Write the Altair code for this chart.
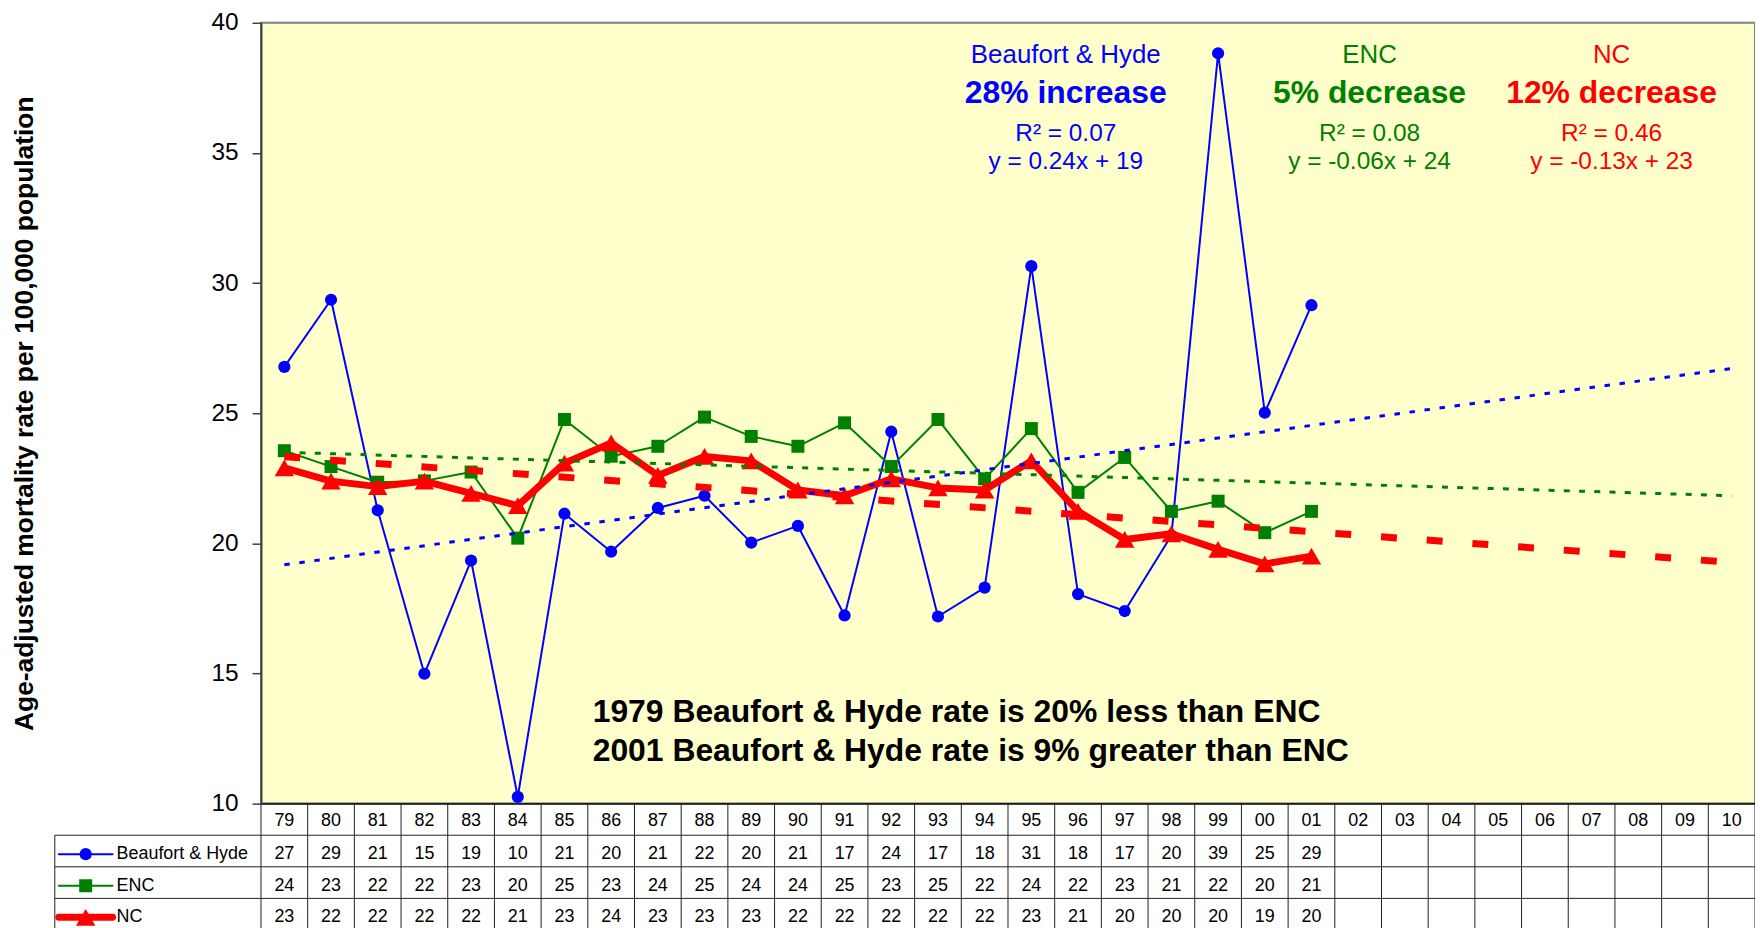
import altair as alt
import pandas as pd

# ---------------- data ----------------
years = ["79", "80", "81", "82", "83", "84", "85", "86", "87", "88", "89", "90",
         "91", "92", "93", "94", "95", "96", "97", "98", "99", "00", "01", "02",
         "03", "04", "05", "06", "07", "08", "09", "10"]

bh = [26.78, 29.36, 21.27, 14.99, 19.34, 10.26, 21.14, 19.68, 21.36, 21.83, 20.03, 20.67,
      17.23, 24.29, 17.19, 18.30, 30.65, 18.05, 17.40, 20.30, 38.83, 25.02, 29.15]
enc = [23.56, 22.95, 22.35, 22.40, 22.74, 20.20, 24.76, 23.35, 23.73, 24.85, 24.11, 23.73,
       24.63, 22.95, 24.76, 22.48, 24.41, 21.96, 23.30, 21.23, 21.62, 20.41, 21.23]
nc = [22.90, 22.39, 22.18, 22.39, 21.92, 21.45, 23.08, 23.86, 22.61, 23.34, 23.17, 22.05,
      21.83, 22.48, 22.13, 22.05, 23.17, 21.23, 20.15, 20.37, 19.77, 19.21, 19.51]

bh_table = [27, 29, 21, 15, 19, 10, 21, 20, 21, 22, 20, 21, 17, 24, 17, 18, 31, 18, 17, 20, 39, 25, 29]
enc_table = [24, 23, 22, 22, 23, 20, 25, 23, 24, 25, 24, 24, 25, 23, 25, 22, 24, 22, 23, 21, 22, 20, 21]
nc_table = [23, 22, 22, 22, 22, 21, 23, 24, 23, 23, 23, 22, 22, 22, 22, 22, 23, 21, 20, 20, 20, 19, 20]

# linear trend lines (value at 1979 and at 2010)
trend_bh = [19.18, 26.72]
trend_enc = [23.50, 21.83]
trend_nc = [23.33, 19.27]

series_names = ["Beaufort & Hyde", "ENC", "NC"]
y_ticks = [10, 15, 20, 25, 30, 35, 40]

# ---------------- styling / layout ----------------
FONT = "Liberation Sans"
BLUE, GREEN, RED = "#0000FF", "#008000", "#FF0000"
W = 1500          # plot width
PLOT_H = 784      # height of the graph part
ROW_H = 31.7      # table row height
TOTAL_H = 907
NCOL = len(years)

xs = alt.Scale(domain=[0.5, NCOL + 0.5], nice=False, zero=False)
ys = alt.Scale(domain=[10, 40], range=[PLOT_H, 0], nice=False, zero=False)
ts = alt.Scale(domain=[0, 4], range=[PLOT_H, PLOT_H + 4 * ROW_H], nice=False, zero=False)

yaxis = alt.Axis(
    values=y_ticks, grid=False,
    title="Age-adjusted mortality rate per 100,000 population",
    titleFont=FONT, titleFontSize=26.5, titleFontWeight="bold", titleColor="black",
    titleAngle=270, titleX=-237, titleY=PLOT_H / 2, titleAlign="center", titleBaseline="middle",
    labelFont=FONT, labelFontSize=24.5, labelColor="black", labelPadding=14,
    tickSize=9, tickColor="#404040", tickWidth=1.5,
    domainColor="#404040", domainWidth=2, zindex=1,
)

X = lambda f: alt.X(f"{f}:Q", scale=xs, axis=None)
Y = lambda f: alt.Y(f"{f}:Q", scale=ys, axis=yaxis)


def sdf(vals):
    return pd.DataFrame({"idx": list(range(1, len(vals) + 1)), "value": vals})


one = pd.DataFrame({"a": [0]})

# background plot area
bg = alt.Chart(pd.DataFrame({"x0": [0.5], "x1": [NCOL + 0.5], "y0": [10], "y1": [40]})).mark_rect(
    fill="#FFFFCC", stroke="#808080", strokeWidth=2
).encode(x=X("x0"), x2="x1", y=Y("y0"), y2="y1")

bottom = alt.Chart(pd.DataFrame({"x0": [0.5], "x1": [NCOL + 0.5], "y0": [10]})).mark_rule(
    color="#202020", strokeWidth=2
).encode(x=X("x0"), x2="x1", y=Y("y0"))

MARK_SIZES = [150, 170, 380]
layers = [bg]
specs = [
    (bh, BLUE, 2, "circle", MARK_SIZES[0]),
    (enc, GREEN, 2, "square", MARK_SIZES[1]),
    (nc, RED, 7, "triangle-up", MARK_SIZES[2]),
]
for vals, col, sw, shp, sz in specs:
    d = sdf(vals)
    layers.append(alt.Chart(d).mark_line(color=col, strokeWidth=sw, strokeJoin="round", strokeCap="round")
                  .encode(x=X("idx"), y=Y("value")))
    layers.append(alt.Chart(d).mark_point(shape=shp, size=sz, filled=True, color=col, opacity=1)
                  .encode(x=X("idx"), y=Y("value")))

for tr, col, sw, dash in [(trend_bh, BLUE, 3, [5.5, 9.7]),
                          (trend_enc, GREEN, 3, [6, 9.3]),
                          (trend_nc, RED, 7, [16, 30])]:
    d = pd.DataFrame({"idx": [1, NCOL], "value": tr})
    layers.append(alt.Chart(d).mark_line(color=col, strokeWidth=sw, strokeDash=dash)
                  .encode(x=X("idx"), y=Y("value")))

layers.append(bottom)


def label(text, x, y, color, size, weight="normal", align="center"):
    return alt.Chart(one).mark_text(
        text=text, font=FONT, fontSize=size, fontWeight=weight, color=color,
        align=align, baseline="alphabetic"
    ).encode(x=alt.value(x), y=alt.value(y))


for cx, col, name, change, r2, eq in [
    (808, BLUE, "Beaufort & Hyde", "28% increase", "R\u00b2 = 0.07", "y = 0.24x + 19"),
    (1113, GREEN, "ENC", "5% decrease", "R\u00b2 = 0.08", "y = -0.06x + 24"),
    (1356, RED, "NC", "12% decrease", "R\u00b2 = 0.46", "y = -0.13x + 23"),
]:
    layers.append(label(name, cx, 40, col, 26))
    layers.append(label(change, cx, 81, col, 32, "bold"))
    layers.append(label(r2, cx, 119, col, 24.5))
    layers.append(label(eq, cx, 147, col, 24.5))

layers.append(label("1979 Beaufort & Hyde rate is 20% less than ENC", 333, 702, "black", 32, "bold", "left"))
layers.append(label("2001 Beaufort & Hyde rate is 9% greater than ENC", 333, 741, "black", 32, "bold", "left"))

main = alt.layer(*layers)

# ---------------- data table under the chart ----------------
TY = lambda f: alt.Y(f"{f}:Q", scale=ts, axis=None)

cells = [dict(idx=i + 1, r=0.55, t=y) for i, y in enumerate(years)]
for k, tab in enumerate([bh_table, enc_table, nc_table]):
    cells += [dict(idx=i + 1, r=k + 1.6, t=str(v)) for i, v in enumerate(tab)]
cells = pd.DataFrame(cells)

table_text = alt.Chart(cells).mark_text(
    font=FONT, fontSize=18, color="black", baseline="middle", align="center"
).encode(x=X("idx"), y=TY("r"), text="t:N")

vlines = alt.Chart(pd.DataFrame({"b": [i + 0.5 for i in range(NCOL + 1)], "r0": 0, "r1": 4})).mark_rule(
    color="#202020", strokeWidth=1
).encode(x=X("b"), y=TY("r0"), y2="r1")

hlines = alt.Chart(pd.DataFrame({"r": [1, 2, 3, 4]})).mark_rule(color="#202020", strokeWidth=1).encode(
    y=TY("r"), x=alt.value(-207), x2=alt.value(W)
)
lborder = alt.Chart(pd.DataFrame({"r0": [1], "r1": [4]})).mark_rule(color="#202020", strokeWidth=1).encode(
    x=alt.value(-207), y=TY("r0"), y2="r1"
)

leg = pd.DataFrame({
    "r": [1.6, 2.6, 3.6],
    "name": series_names,
    "c": [BLUE, GREEN, RED],
    "sw": [2, 2, 7],
    "s": ["circle", "square", "triangle-up"],
    "z": MARK_SIZES,
})
leg_line = alt.Chart(leg).mark_rule(strokeCap="round").encode(
    y=TY("r"), x=alt.value(-203), x2=alt.value(-149),
    color=alt.Color("c:N", scale=None), strokeWidth=alt.StrokeWidth("sw:Q", scale=None)
)
leg_pt = alt.Chart(leg).mark_point(filled=True, opacity=1).encode(
    y=TY("r"), x=alt.value(-176),
    color=alt.Color("c:N", scale=None), shape=alt.Shape("s:N", scale=None), size=alt.Size("z:Q", scale=None)
)
leg_txt = alt.Chart(leg).mark_text(font=FONT, fontSize=18, color="black", align="left", baseline="middle").encode(
    y=TY("r"), x=alt.value(-145), text="name:N"
)

table = alt.layer(vlines, hlines, lborder, table_text, leg_line, leg_pt, leg_txt)

chart = alt.layer(main, table).resolve_scale(y="independent").properties(
    width=W, height=TOTAL_H,
    autosize=alt.AutoSizeParams(type="none"),
    padding={"left": 254, "top": 13, "right": 0, "bottom": 0},
    background="white",
).configure_view(stroke=None)

chart.save("out.html", embed_options={"renderer": "svg", "actions": False})
